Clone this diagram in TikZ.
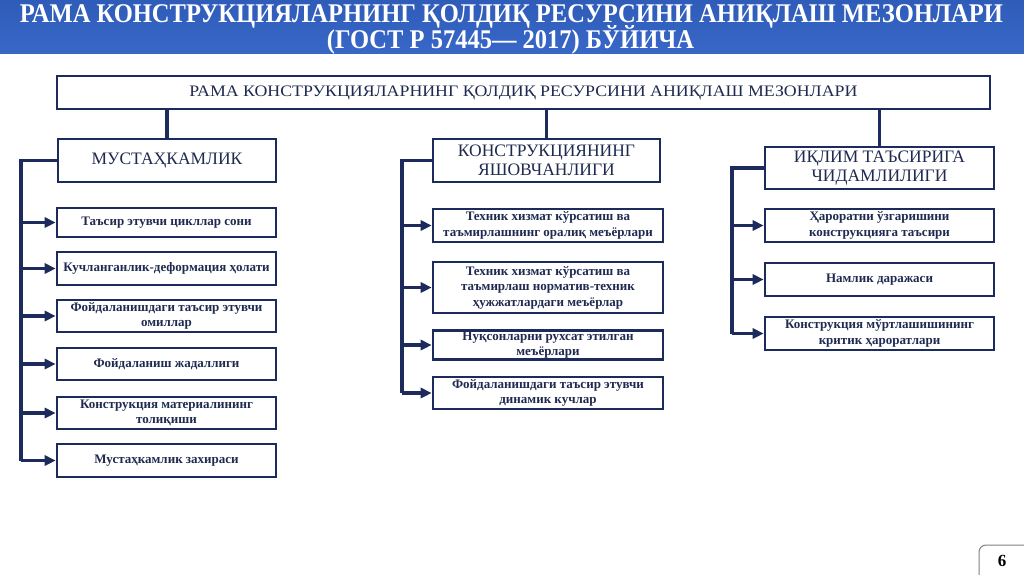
\documentclass[tikz,border=0pt]{standalone}
\usepackage{fontspec}
\usepackage{graphicx}
\setmainfont{Liberation Serif}
\usetikzlibrary{arrows.meta}
\definecolor{navy}{HTML}{1C2B5C}
\definecolor{txt}{HTML}{1F2A50}
\definecolor{bandtop}{HTML}{2F5CB8}
\definecolor{bandbot}{HTML}{3867C8}
\tikzset{
  box/.style={draw=navy, line width=2.6pt, fill=white, align=center, text=txt, inner sep=1pt},
  item/.style={box, font=\bfseries\fontsize{13}{15.5}\selectfont},
  head/.style={box, font=\fontsize{17.5}{19}\selectfont},
  conn/.style={draw=navy, line width=3.2pt},
  arr/.style={draw=navy, line width=3.2pt, -{Triangle[length=11pt,width=10pt]}},
  title/.style={text=white, font=\bfseries\fontsize{27}{27}\selectfont, inner sep=0pt, anchor=base},
}
\begin{document}
\begin{tikzpicture}[x=1pt,y=-1pt]
\useasboundingbox (0,0) rectangle (1024,574);
\fill[white] (0,0) rectangle (1024,574);
% header band
\shade[top color=bandtop, bottom color=bandbot] (0,0) rectangle (1024,53);
\node[title] (t1) at (511.5,22) {\resizebox{983pt}{\height}{РАМА КОНСТРУКЦИЯЛАРНИНГ ҚОЛДИҚ РЕСУРСИНИ АНИҚЛАШ МЕЗОНЛАРИ}};
\node[title] (t2) at (510.5,48.5) {\resizebox{367pt}{\height}{(ГОСТ Р 57445— 2017) БЎЙИЧА}};

% top box
\node[box, minimum width=933pt, minimum height=33pt, font=\fontsize{16}{16}\selectfont] (top) at (523.5,92.5)
  {\resizebox{668pt}{\height}{РАМА КОНСТРУКЦИЯЛАРНИНГ ҚОЛДИҚ РЕСУРСИНИ АНИҚЛАШ МЕЗОНЛАРИ}};

% column heads
\node[head, minimum width=218pt, minimum height=43pt] (b1) at (167,160.5) {МУСТАҲКАМЛИК};
\node[head, minimum width=227pt, minimum height=43pt] (b2) at (546.5,160.5) {КОНСТРУКЦИЯНИНГ\\ЯШОВЧАНЛИГИ};
\node[head, minimum width=229pt, minimum height=42pt] (b3) at (879.5,168) {ИҚЛИМ ТАЪСИРИГА\\ЧИДАМЛИЛИГИ};

% column 1 items
\node[item, minimum width=219pt, minimum height=29pt] (c11) at (166.5,222.5) {Таъсир этувчи цикллар сони};
\node[item, minimum width=219pt, minimum height=33pt] (c12) at (166.5,268.5) {Кучланганлик-деформация ҳолати};
\node[item, minimum width=219pt, minimum height=32pt] (c13) at (166.5,316) {Фойдаланишдаги таъсир этувчи\\омиллар};
\node[item, minimum width=219pt, minimum height=32pt] (c14) at (166.5,364) {Фойдаланиш жадаллиги};
\node[item, minimum width=219pt, minimum height=32pt] (c15) at (166.5,413) {Конструкция материалининг\\толиқиши};
\node[item, minimum width=219pt, minimum height=33pt] (c16) at (166.5,460.5) {Мустаҳкамлик захираси};

% column 2 items
\node[item, minimum width=230pt, minimum height=33pt] (c21) at (548,225.5) {Техник хизмат кўрсатиш ва\\таъмирлашнинг оралиқ меъёрлари};
\node[item, minimum width=230pt, minimum height=51pt] (c22) at (548,287.5) {Техник хизмат кўрсатиш ва\\таъмирлаш норматив-техник\\ҳужжатлардаги меъёрлар};
\node[item, minimum width=230pt, minimum height=28pt] (c23) at (548,345) {Нуқсонларни рухсат этилган\\меъёрлари};
\node[item, minimum width=230pt, minimum height=32pt] (c24) at (548,393) {Фойдаланишдаги таъсир этувчи\\динамик кучлар};

% column 3 items
\node[item, minimum width=229pt, minimum height=33pt] (c31) at (879.5,225.5) {Ҳароратни ўзгаришини\\конструкцияга таъсири};
\node[item, minimum width=229pt, minimum height=33pt] (c32) at (879.5,279.5) {Намлик даражаси};
\node[item, minimum width=229pt, minimum height=33pt] (c33) at (879.5,333.5) {Конструкция мўртлашишининг\\критик ҳароратлари};

% top connectors
\draw[conn] (top.south -| b1.north) -- (b1.north);
\draw[conn] (top.south -| b2.north) -- (b2.north);
\draw[conn] (top.south -| b3.north) -- (b3.north);

% buses
\coordinate (k1) at (21,0);
\coordinate (k2) at (402,0);
\coordinate (k3) at (732,0);
\draw[conn] (b1.west) -- (b1.west -| k1) -- (c16.west -| k1);
\draw[conn] (b2.west) -- (b2.west -| k2) -- (c24.west -| k2);
\draw[conn] (b3.west) -- (b3.west -| k3) -- (c33.west -| k3);

\foreach \n in {c11,c12,c13,c14,c15,c16} \draw[arr] (\n.west -| k1) -- (\n.west);
\foreach \n in {c21,c22,c23,c24} \draw[arr] (\n.west -| k2) -- (\n.west);
\foreach \n in {c31,c32,c33} \draw[arr] (\n.west -| k3) -- (\n.west);

% page number
\draw[draw=gray, line width=1pt, rounded corners=7pt] (979,545) rectangle (1040,590);
\node[font=\bfseries\fontsize{17}{17}\selectfont, text=black] (pg) at (1002,561) {6};
\end{tikzpicture}
\end{document}
